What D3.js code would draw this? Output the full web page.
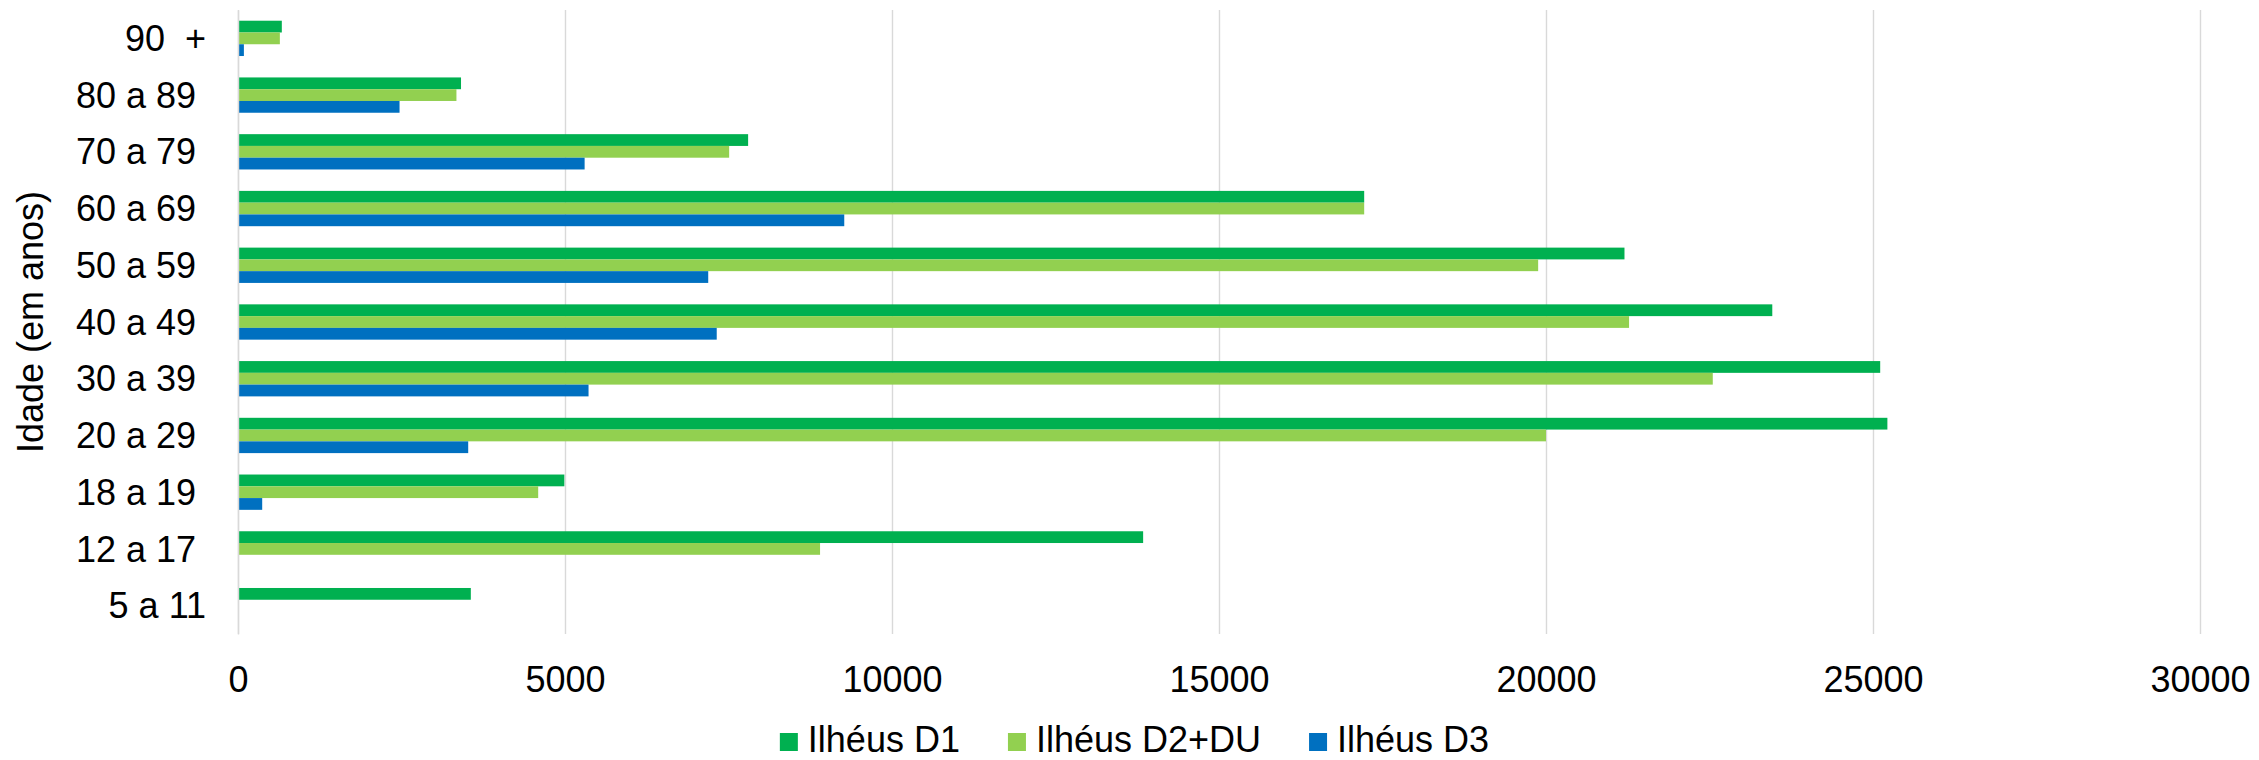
<!DOCTYPE html>
<html>
<head>
<meta charset="utf-8">
<script src="https://cdn.jsdelivr.net/npm/d3@7"></script>
<style>
  html, body { margin: 0; padding: 0; background: #ffffff; }
  svg { display: block; }
  text { font-family: "Liberation Sans", Arial, sans-serif; fill: #000000; }
</style>
</head>
<body>
<svg id="chart" width="2259" height="760"></svg>
<script>
// ---- data (top-to-bottom category order as shown) ----
const categories = ["90  +", "80 a 89 ", "70 a 79 ", "60 a 69 ", "50 a 59 ", "40 a 49 ", "30 a 39 ", "20 a 29 ", "18 a 19 ", "12 a 17 ", "5 a 11"];
const seriesNames = ["Ilhéus D1", "Ilhéus D2+DU", "Ilhéus D3"];
const ilheusD1   = [670, 3410, 7800, 17220, 21200, 23460, 25110, 25220, 4990, 13840, 3560];
const ilheusD2DU = [640, 3340, 7510, 17220, 19880, 21270, 22550, 20000, 4590, 8900, 0];
const ilheusD3   = [90, 2470, 5300, 9270, 7190, 7320, 5360, 3520, 370, 0, 0];
const xTicks = [0, 5000, 10000, 15000, 20000, 25000, 30000];
const axisTitle = "Idade (em anos)";
const seriesColors = ["#00B050", "#92D050", "#0070C0"];

const seriesValues = [ilheusD1, ilheusD2DU, ilheusD3];
const rows = categories.map((c, i) => ({
  cat: c,
  vals: seriesNames.map((s, j) => ({ key: s, value: seriesValues[j][i] }))
}));

// ---- layout ----
const svg = d3.select("#chart");
const plot = { left: 238, right: 2200, top: 10, bottom: 634 };
const fontSize = 36;

const x = d3.scaleLinear().domain([0, 30000]).range([plot.left, plot.right]);
const y = d3.scaleBand().domain(categories).range([plot.top, plot.bottom]).paddingInner(0).paddingOuter(0);
const yInner = d3.scaleBand().domain(seriesNames).range([0, y.bandwidth()]).paddingInner(0).paddingOuter(0.91);
const color = d3.scaleOrdinal().domain(seriesNames).range(seriesColors);

// gridlines (via axis)
const grid = svg.append("g")
  .attr("transform", `translate(0,${plot.bottom})`)
  .call(d3.axisBottom(x).tickValues(xTicks).tickSize(-(plot.bottom - plot.top)).tickFormat(""));
grid.select(".domain").remove();
grid.selectAll(".tick line").attr("stroke", "#D9D9D9").attr("stroke-width", 1.4);

// x tick labels
const xAxis = svg.append("g")
  .attr("transform", `translate(0,${plot.bottom})`)
  .call(d3.axisBottom(x).tickValues(xTicks).tickSize(0).tickPadding(0).tickFormat(d3.format("d")));
xAxis.select(".domain").remove();
xAxis.selectAll("text")
  .attr("y", 58)
  .attr("dy", null)
  .style("font-size", fontSize + "px")
  .style("font-family", '"Liberation Sans", Arial, sans-serif')
  .attr("fill", "#000");

// bars
const groups = svg.append("g").selectAll("g")
  .data(rows)
  .join("g")
  .attr("transform", d => `translate(0,${y(d.cat)})`);

groups.selectAll("rect")
  .data(d => d.vals.filter(v => v.value > 0))
  .join("rect")
  .attr("x", x(0))
  .attr("y", d => yInner(d.key))
  .attr("width", d => x(d.value) - x(0))
  .attr("height", yInner.bandwidth())
  .attr("fill", d => color(d.key));

// category axis line
const yAxis = svg.append("g")
  .attr("transform", `translate(${x(0)},0)`)
  .call(d3.axisLeft(y).tickSize(0).tickPadding(32));
yAxis.select(".domain").attr("stroke", "#D9D9D9").attr("stroke-width", 1.4);
yAxis.selectAll("text")
  .attr("xml:space", "preserve")
  .style("white-space", "pre")
  .style("font-size", fontSize + "px")
  .style("font-family", '"Liberation Sans", Arial, sans-serif')
  .attr("fill", "#000")
  .attr("dy", "0.35em");

// y axis title
svg.append("text")
  .attr("transform", `translate(43,${(plot.top + plot.bottom) / 2}) rotate(-90)`)
  .attr("text-anchor", "middle")
  .style("font-size", fontSize + "px")
  .text(axisTitle);

// legend
const legend = svg.append("g");
const sq = 18, gapText = 10, gapItem = 48;
const items = legend.selectAll("g").data(seriesNames).join("g");
items.append("rect")
  .attr("width", sq).attr("height", sq)
  .attr("y", 733)
  .attr("fill", d => color(d));
items.append("text")
  .attr("x", sq + gapText)
  .attr("y", 752)
  .style("font-size", fontSize + "px")
  .text(d => d);
let cursor = 0;
const widths = [];
items.each(function () {
  const w = sq + gapText + d3.select(this).select("text").node().getComputedTextLength();
  widths.push(w);
});
const total = d3.sum(widths) + gapItem * (widths.length - 1);
cursor = 1134.5 - total / 2;
items.attr("transform", (d, i) => {
  const t = `translate(${cursor},0)`;
  cursor += widths[i] + gapItem;
  return t;
});
</script>
</body>
</html>
